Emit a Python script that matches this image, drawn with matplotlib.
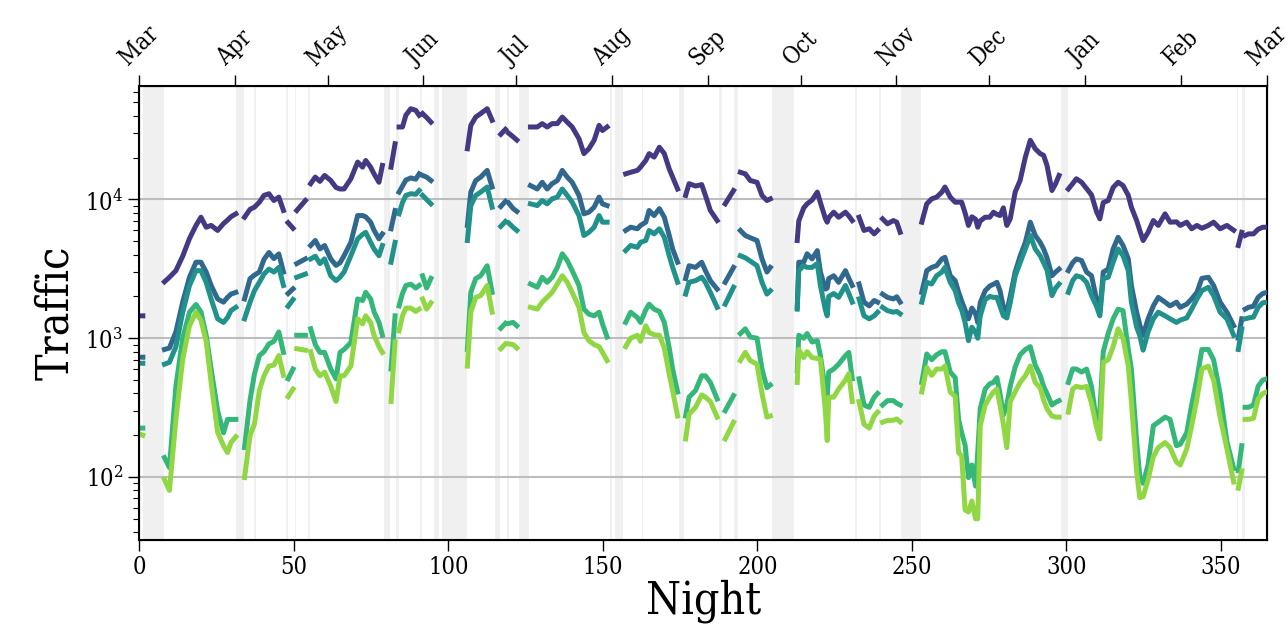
import numpy as np
import matplotlib
matplotlib.use("Agg")
import matplotlib.pyplot as plt

nan = np.nan

# nights where the counters had data, nan breaks the line at missing nights
night = [0, 1.2, nan,
         8.2, 9.8, 11.9, 14.1, 16.3, 18.4, 20, 21.7, 23.3, 25.4, 27.3, 28.6, 29.7, 31.3, nan,
         34.1, 35.9, 37.3, 38.9, 40.4, 42, 43.6, 45.2, 46.7, nan,
         48.2, 49.8, nan,
         51, 53.8, nan,
         55.5, 57, 58.5, 60, 62, 63.7, 65, 66.3, 68.5, 70.7, 72.3, 73.3, 74.9, 76, 77.6, 78.7, nan,
         81.5, 82.8, nan,
         84.1, 85.2, 86.3, 87.9, 89.5, 90.6, nan,
         91.7, 93, 94.4, nan,
         106.2, 107.3, 108.9, 110.5, 112.6, 114.2, nan,
         117, 118.5, nan,
         119.6, 121, 122.2, nan,
         126.6, 128.8, 130.4, 132, 133.6, 135.3, 136.9, 138.5, 140.1, 142.3, 143.9, 145.5, 147.2, 148.8, 149.9, 151.4, nan,
         157.4, 159, 161.2, 162.2, 163.9, 165, 166.6, 168.3, 169.9, 171.5, 172.6, 174.2, nan,
         176.8, 177.9, 180, 182, 183.2, 184.8, 187, nan,
         189.6, 192.3, nan,
         194.5, 196.1, 197.7, 199.9, 201.5, 203.1, 204.2, nan,
         212.9, 213.4, 215, 216.1, 217.7, 219.4, 220.4, 222, 222.6, 223.1, 224.7, 226.3, 228.5, 229.6, 230.7, nan,
         232.9, 234.5, 236.2, 237.8, 238.9, nan,
         240.5, 242.1, 244, 245.1, 246.2, nan,
         253.2, 254.8, 256.4, 258, 259.7, 260.7, 262.4, 264, 265.1, 266.1, 267.2, 268.3, 269.4, 270.6, 271.3,
         272.1, 273.7, 275.2, 276.4, 277.5, 278.5, 279.6, 280.7, 281.8, 283.4, 285, 286.7, 288.3, 289.9, 291.5,
         292.6, 293.7, 295.3, 296.5, 297.6, nan,
         300.6, 302, 303.2, 304.9, 306.5, 308.1, 309.7, 310.8, 311.9, 313.5, 315.1, 316.7, 318.3, 320, 321,
         322.7, 323.7, 324.8, 326.4, 328.1, 329.7, 331.9, 333.5, 335.6, 336.8, 338.9, 340.5, 342.2, 343.8, 345.9,
         347.6, 349.7, 351.9, 354.1, nan,
         355.6, 356.7, nan,
         357.8, 358.9, 360.5, 362, 363.5, 364.8]

traffic_1 = [1450, 1450, nan,
             2550, 2750, 3070, 3900, 5230, 6500, 7450, 6310, 6500, 5980, 6700, 7100, 7500, 7880, nan,
             7450, 8500, 8800, 9560, 10700, 11000, 9830, 10400, 8330, nan,
             6800, 6200, nan,
             8330, 9830, nan,
             13000, 14500, 13500, 14900, 13700, 12200, 11900, 11900, 14100, 18600, 17100, 19100, 17100, 15300, 13300, 17600, nan,
             17100, 25200, nan,
             33300, 33300, 40500, 45100, 43900, 40400, nan,
             41600, 39000, 36100, nan,
             23200, 34200, 39300, 41600, 45100, 37200, nan,
             29500, 32000, nan,
             30000, 28300, 26800, nan,
             33300, 33300, 35200, 33300, 35200, 35200, 39300, 36100, 33300, 27400, 21400, 23200, 26700, 34200, 31400, 33300, nan,
             15300, 15700, 16200, 17100, 19100, 21400, 20200, 23800, 21400, 16600, 14500, 11900, nan,
             10700, 13000, 12500, 12800, 10700, 8330, 7050, nan,
             9300, 11600, nan,
             15700, 15300, 13700, 13300, 10700, 9830, 10100, nan,
             5060, 7000, 8700, 9300, 9900, 11300, 9500, 7300, 6860, 7400, 8100, 7450, 8100, 7600, 7050, nan,
             7450, 5980, 6150, 5650, 5980, nan,
             7250, 6680, 7050, 6860, 5800, nan,
             6860, 9300, 10100, 10400, 11300, 12300, 10400, 9560, 9560, 9560, 8000, 6500, 7500, 7200, 6310,
             7000, 7450, 7450, 8100, 7800, 7660, 8700, 6500, 7250, 11300, 13700, 20200, 26700, 23200, 21400,
             20800, 17600, 11600, 13000, 14900, nan,
             11900, 13000, 14100, 13300, 12000, 10800, 8200, 7250, 9500, 9830, 12200, 13300, 12600, 10700, 8800,
             7050, 6000, 5060, 5800, 7050, 6500, 7880, 6860, 6900, 6500, 6860, 6150, 6500, 6200, 6500,
             6860, 6150, 6500, 6000, nan,
             4660, 5800, nan,
             5500, 5650, 5650, 6100, 6310, 6310]

traffic_2 = [730, 730, nan,
             830, 850, 1110, 1820, 2750, 3530, 3530, 3000, 2400, 1920, 1820, 1970, 2080, 2140, nan,
             1920, 2690, 2850, 3000, 3700, 4150, 3750, 4050, 3000, nan,
             2100, 2270, nan,
             3450, 3730, nan,
             4660, 5060, 4400, 4660, 3730, 3350, 3500, 3930, 4910, 7660, 7660, 7500, 6860, 6000, 5200, 5650, nan,
             6150, 8330, nan,
             11300, 12500, 13800, 14300, 14000, 15300, nan,
             14900, 14500, 13700, nan,
             6500, 11300, 13700, 14500, 16200, 12300, nan,
             8900, 9700, nan,
             9400, 8600, 8200, nan,
             12600, 11900, 13300, 11900, 13000, 13700, 16200, 14500, 13300, 10700, 7880, 8100, 8800, 10400, 9300, 9040, nan,
             5980, 6310, 6150, 6500, 6860, 8330, 7660, 8590, 7450, 5500, 4400, 3530, nan,
             2690, 3330, 3240, 3530, 3070, 2600, 2260, nan,
             2530, 3240, nan,
             5980, 5500, 5300, 5060, 3730, 3000, 3240, nan,
             1670, 3530, 3530, 4060, 3730, 4280, 3000, 2260, 2300, 2690, 2820, 2530, 3070, 2700, 2400, nan,
             2460, 1820, 1710, 1870, 1820, nan,
             2080, 1970, 1920, 1990, 1820, nan,
             2140, 3070, 3240, 3330, 3730, 3830, 2820, 2600, 2150, 1850, 1600, 1380, 1650, 1500, 1300,
             1800, 2200, 2380, 2450, 2530, 2200, 1670, 1560, 2000, 3000, 3900, 4910, 6860, 5500, 4910,
             4400, 3800, 2820, 3000, 3150, nan,
             3070, 3500, 3730, 3630, 3000, 2820, 1920, 1540, 3000, 3150, 4400, 5340, 4660, 3730, 2400,
             1540, 1250, 1050, 1380, 1710, 1970, 1820, 1710, 1820, 1670, 1760, 1920, 2140, 2700, 2750,
             2400, 1820, 1540, 1230, nan,
             1000, 1380, nan,
             1620, 1670, 1700, 1970, 2100, 2140]

traffic_3 = [660, 660, nan,
             650, 670, 870, 1540, 2400, 3070, 3070, 2530, 1920, 1380, 1300, 1410, 1580, 1670, nan,
             1380, 1820, 2200, 2530, 2900, 3150, 3000, 3240, 2400, nan,
             1700, 1900, nan,
             2750, 2900, nan,
             3730, 3900, 3450, 3730, 2820, 2600, 2750, 3000, 3930, 5200, 5600, 5800, 4910, 4400, 3930, 4660, nan,
             3530, 4910, nan,
             7880, 9500, 10700, 11000, 10900, 11600, nan,
             10700, 10000, 9300, nan,
             5060, 9040, 10700, 11300, 12300, 8800, nan,
             6400, 6940, nan,
             6750, 6300, 5980, nan,
             9300, 9040, 9830, 9300, 10100, 10400, 11900, 10700, 9560, 7660, 5500, 5800, 6310, 7660, 6860, 6860, nan,
             4280, 4660, 4520, 4910, 5060, 5980, 5650, 6150, 5340, 3930, 3240, 2530, nan,
             2080, 2530, 2600, 2750, 2530, 2140, 1670, nan,
             1760, 2330, nan,
             3930, 3800, 3600, 3330, 2530, 2080, 2200, nan,
             1620, 3070, 3330, 3240, 3240, 3450, 2400, 1600, 1450, 2000, 2100, 1970, 2400, 2100, 1820, nan,
             1920, 1450, 1380, 1450, 1540, nan,
             1670, 1580, 1540, 1560, 1500, nan,
             1820, 2530, 2460, 2820, 3000, 3240, 2530, 2200, 1800, 1600, 1300, 960, 1200, 1100, 1000,
             1450, 1900, 2000, 1970, 1970, 1700, 1450, 1400, 1800, 2800, 3500, 4400, 5500, 4400, 3930,
             3500, 3100, 2030, 2300, 2460, nan,
             2140, 2600, 2820, 2750, 2530, 2030, 1700, 1450, 2690, 2750, 3530, 4400, 3930, 3070, 1820,
             1200, 1050, 820, 1110, 1380, 1540, 1450, 1380, 1300, 1350, 1400, 1620, 1920, 2200, 2330,
             2030, 1540, 1380, 1050, nan,
             830, 1170, nan,
             1380, 1400, 1420, 1670, 1800, 1820]

traffic_4 = [225, 225, nan,
             138, 117, 450, 1000, 1540, 1750, 1550, 1050, 600, 300, 208, 260, 260, 260, nan,
             163, 360, 550, 750, 800, 910, 950, 1110, 790, nan,
             510, 600, nan,
             1050, 1050, nan,
             1170, 900, 790, 790, 600, 510, 790, 830, 930, 1920, 1870, 2140, 1920, 1550, 1300, 1050, nan,
             600, 1450, nan,
             1710, 2100, 2400, 2450, 2300, 2400, nan,
             2820, 2300, 2700, nan,
             830, 2140, 2690, 2820, 3330, 2140, nan,
             1180, 1280, nan,
             1280, 1300, 1230, nan,
             2460, 2330, 2750, 2530, 2750, 3240, 4060, 3630, 3070, 2400, 1620, 1490, 1450, 1540, 1270, 1020, nan,
             1300, 1540, 1410, 1300, 1600, 1760, 1620, 1560, 1300, 850, 600, 410, nan,
             275, 376, 420, 536, 536, 480, 365, nan,
             300, 386, nan,
             1080, 1170, 1020, 1000, 600, 440, 460, nan,
             582, 1050, 1000, 1080, 940, 960, 750, 420, 386, 570, 600, 650, 750, 790, 510, nan,
             510, 330, 318, 376, 400, nan,
             330, 355, 355, 340, 330, nan,
             480, 770, 700, 760, 800, 800, 570, 520, 260, 208, 170, 99, 122, 86, 150,
             310, 430, 470, 480, 520, 400, 280, 330, 450, 620, 760, 830, 870, 640, 540,
             450, 400, 330, 345, 355, nan,
             480, 600, 600, 570, 600, 450, 250, 300, 800, 1080, 1380, 1620, 1580, 830, 600,
             180, 102, 90, 122, 234, 248, 270, 260, 168, 172, 208, 330, 510, 830, 830,
             700, 400, 180, 115, nan,
             111, 168, nan,
             318, 318, 330, 450, 500, 510]

traffic_5 = [205, 200, nan,
             96, 80, 260, 705, 1230, 1540, 1350, 950, 480, 210, 168, 150, 177, 195, nan,
             99, 200, 240, 420, 536, 630, 640, 750, 540, nan,
             380, 430, nan,
             840, 820, nan,
             800, 600, 536, 570, 450, 350, 536, 536, 630, 1380, 1270, 1450, 1300, 1050, 870, 790, nan,
             350, 940, nan,
             1130, 1450, 1650, 1650, 1560, 1620, nan,
             1920, 1620, 1800, nan,
             630, 1540, 1970, 2030, 2400, 1540, nan,
             840, 910, nan,
             910, 900, 850, nan,
             1670, 1620, 1820, 1970, 2140, 2460, 2820, 2530, 2140, 1670, 1100, 960, 900, 870, 790, 690, nan,
             870, 1000, 1050, 950, 1230, 1100, 1060, 1050, 850, 550, 420, 275, nan,
             188, 283, 318, 390, 376, 350, 270, nan,
             188, 248, nan,
             690, 790, 690, 650, 400, 270, 275, nan,
             480, 830, 725, 800, 725, 715, 705, 300, 183, 376, 376, 430, 500, 555, 350, nan,
             350, 240, 225, 275, 293, nan,
             248, 256, 256, 262, 250, nan,
             410, 615, 540, 600, 600, 630, 410, 380, 150, 142, 58, 56, 67, 50, 50,
             234, 330, 376, 410, 430, 330, 240, 163, 350, 410, 480, 536, 630, 480, 440,
             360, 310, 275, 270, 270, nan,
             293, 430, 450, 440, 450, 340, 230, 188, 670, 700, 870, 1170, 1000, 630, 350,
             110, 71, 72, 96, 140, 163, 177, 163, 128, 122, 159, 234, 365, 600, 630,
             500, 270, 160, 92, nan,
             83, 111, nan,
             260, 260, 265, 365, 400, 410]

# nights with no data (shaded)
gap_start = [1.3, 31.5, 37.2, 47.5, 50.3, 54.5, 79.3, 83.2, 90.8, 95.3, 98, 115, 119, 122.9,
             152.2, 154, 162.6, 174.7, 187.7, 192.4, 204.9, 231.6, 239.5, 246.6, 298.2, 355.2, 356.9]
gap_end = [8, 34, 37.8, 48.3, 50.8, 55.2, 81.2, 84, 91.5, 97, 106, 116.6, 119.5, 126.1,
           153, 156.5, 163.1, 176.3, 188.6, 193.9, 211.7, 232.2, 240.1, 252.8, 300.5, 355.6, 357.6]

month_day = [0, 31, 61, 92, 122, 153, 184, 214, 245, 275, 306, 337, 365]
month_name = ["Mar", "Apr", "May", "Jun", "Jul", "Aug", "Sep", "Oct", "Nov", "Dec", "Jan", "Feb", "Mar"]

plt.rcParams["font.family"] = "DejaVu Serif"
plt.rcParams["font.stretch"] = "condensed"
plt.rcParams["mathtext.fontset"] = "dejavuserif"

fig = plt.figure(figsize=(12.88, 6.26), dpi=100)
ax = fig.add_axes([0.108, 0.137, 0.876, 0.726])

for lo, hi in zip(gap_start, gap_end):
    ax.axvspan(lo, hi, color="0.94", lw=0, zorder=0)

colors = plt.cm.viridis(np.linspace(0, 1, 7)[1:-1])
series = [traffic_1, traffic_2, traffic_3, traffic_4, traffic_5]
for vals, c in zip(series, colors):
    ax.plot(night, vals, color=c, lw=3.6, zorder=3)

ax.set_yscale("log")
ax.set_ylim(35, 66000)
ax.set_xlim(0, 365)
ax.grid(axis="y", which="major", color="0.74", lw=1.5, zorder=1)
ax.set_axisbelow(True)
ax.set_xticks([0, 50, 100, 150, 200, 250, 300, 350])
ax.tick_params(axis="both", which="major", labelsize=17, length=8, width=1)
ax.tick_params(axis="y", which="minor", length=4, width=0.8)
ax.set_xlabel("Night", fontsize=32, labelpad=0)
ax.set_ylabel("Traffic", fontsize=32, labelpad=6)
for s in ax.spines.values():
    s.set_linewidth(1.5)

top = ax.twiny()
top.set_xlim(0, 365)
top.set_xticks(month_day)
top.set_xticklabels(month_name, rotation=45, fontsize=17)
top.tick_params(length=8, width=1)

fig.savefig("out.png", dpi=100)
